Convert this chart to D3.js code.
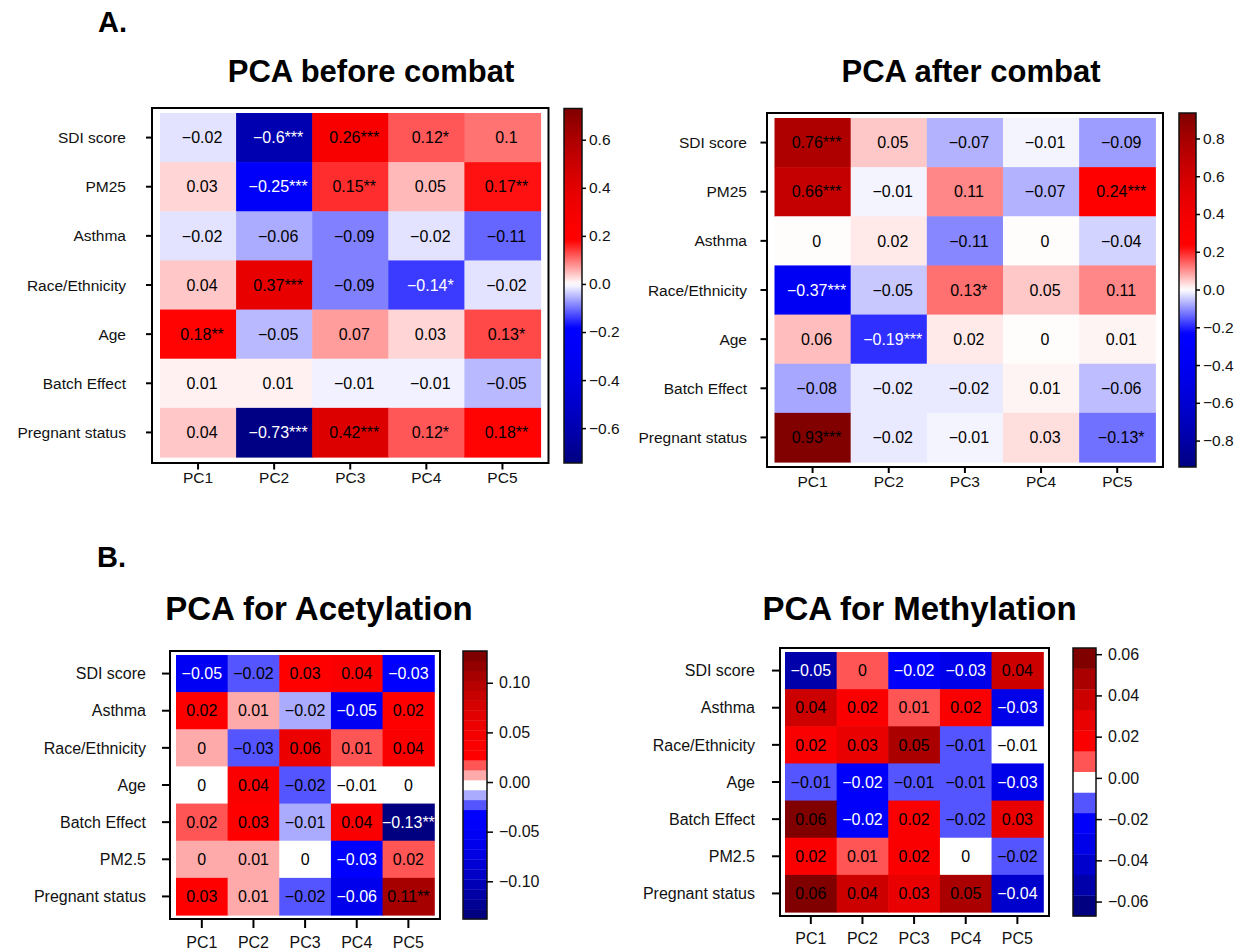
<!DOCTYPE html>
<html>
<head>
<meta charset="utf-8">
<script src="https://cdn.jsdelivr.net/npm/d3@7"></script>
<style>
  html, body { margin: 0; padding: 0; background: #ffffff; }
  svg { display: block; }
</style>
</head>
<body>
<svg id="fig" width="1246" height="951"></svg>
<script>
// ---------- data ----------
const pcs = ["PC1", "PC2", "PC3", "PC4", "PC5"];

const combatRows = ["SDI score", "PM25", "Asthma", "Race/Ethnicity", "Age", "Batch Effect", "Pregnant status"];

const beforeValues = [
  [-0.02, -0.60,  0.26,  0.12,  0.10],
  [ 0.03, -0.25,  0.15,  0.05,  0.17],
  [-0.02, -0.06, -0.09, -0.02, -0.11],
  [ 0.04,  0.37, -0.09, -0.14, -0.02],
  [ 0.18, -0.05,  0.07,  0.03,  0.13],
  [ 0.01,  0.01, -0.01, -0.01, -0.05],
  [ 0.04, -0.73,  0.42,  0.12,  0.18]
];
const beforeStars = [
  ["", "***", "***", "*", ""],
  ["", "***", "**", "", "**"],
  ["", "", "", "", ""],
  ["", "***", "", "*", ""],
  ["**", "", "", "", "*"],
  ["", "", "", "", ""],
  ["", "***", "***", "*", "**"]
];

const afterValues = [
  [ 0.76,  0.05, -0.07, -0.01, -0.09],
  [ 0.66, -0.01,  0.11, -0.07,  0.24],
  [ 0.003, 0.02, -0.11,  0.003, -0.04],
  [-0.37, -0.05,  0.13,  0.05,  0.11],
  [ 0.06, -0.19,  0.02,  0.003, 0.01],
  [-0.08, -0.02, -0.02,  0.01, -0.06],
  [ 0.93, -0.02, -0.01,  0.03, -0.13]
];
const afterStars = [
  ["***", "", "", "", ""],
  ["***", "", "", "", "***"],
  ["", "", "", "", ""],
  ["***", "", "*", "", ""],
  ["", "***", "", "", ""],
  ["", "", "", "", ""],
  ["***", "", "", "", "*"]
];

const markRows = ["SDI score", "Asthma", "Race/Ethnicity", "Age", "Batch Effect", "PM2.5", "Pregnant status"];

const acetValues = [
  [-0.05,  -0.02,   0.03,  0.04,  -0.03],
  [ 0.024,  0.01,  -0.016, -0.05,  0.024],
  [ 0.004, -0.026,  0.06,  0.013,  0.04],
  [ 0.0,    0.04,  -0.02,  -0.006, 0.0],
  [ 0.02,   0.03,  -0.01,  0.04,  -0.13],
  [ 0.004,  0.01,   0.0,  -0.03,   0.02],
  [ 0.03,   0.01,  -0.02, -0.06,   0.11]
];
const acetStars = [
  ["", "", "", "", ""],
  ["", "", "", "", ""],
  ["", "", "", "", ""],
  ["", "", "", "", ""],
  ["", "", "", "", "**"],
  ["", "", "", "", ""],
  ["", "", "", "", "**"]
];

const methValues = [
  [-0.05,  0.004, -0.02, -0.03,   0.04],
  [ 0.04,  0.02,   0.01,  0.02,  -0.03],
  [ 0.02,  0.03,   0.05, -0.01,  -0.006],
  [-0.01, -0.02,  -0.01, -0.01,  -0.03],
  [ 0.06, -0.02,   0.02, -0.016,  0.03],
  [ 0.02,  0.01,   0.02,  0.0,   -0.016],
  [ 0.06,  0.04,   0.03,  0.05,  -0.04]
];
const methStars = methValues.map(r => r.map(() => ""));

const beforeTicks = [0.6, 0.4, 0.2, 0.0, -0.2, -0.4, -0.6];
const afterTicks  = [0.8, 0.6, 0.4, 0.2, 0.0, -0.2, -0.4, -0.6, -0.8];
const acetTicks   = [0.10, 0.05, 0.00, -0.05, -0.10];
const methTicks   = [0.06, 0.04, 0.02, 0.00, -0.02, -0.04, -0.06];

// ---------- drawing ----------
const FONT = "'Liberation Sans', Arial, Helvetica, sans-serif";
const svg = d3.select("#fig");
svg.append("rect").attr("width", 1246).attr("height", 951).attr("fill", "#ffffff");

function minus(s) { return s.replace(/-/g, "\u2212"); }
function cellLabel(v) {
  const r = +v.toFixed(2);
  return minus(String(Object.is(r, -0) ? 0 : r));
}

// navy - blue - white - red - darkred, with a softened approach to the dark ends
function rampScale(loEnd, knee, hiEnd) {
  const N = 16, GAMMA = 1.6;
  const toNavy = d3.interpolateRgb("#0000ff", "#000080");
  const toDark = d3.interpolateRgb("#ff0000", "#800000");
  const dom = [], rng = [];
  for (let i = N; i >= 1; i--) {
    const s = i / N;
    dom.push(-knee + s * (loEnd + knee));
    rng.push(toNavy(Math.pow(s, GAMMA)));
  }
  dom.push(-knee, 0, knee);
  rng.push("#0000ff", "#ffffff", "#ff0000");
  for (let i = 1; i <= N; i++) {
    const s = i / N;
    dom.push(knee + s * (hiEnd - knee));
    rng.push(toDark(Math.pow(s, GAMMA)));
  }
  return d3.scaleLinear().domain(dom).range(rng).interpolate(d3.interpolateRgb).clamp(true);
}

function continuousScale(lo, hi, knee) {
  return rampScale(lo, knee, hi);
}

// stepped palette; one band per `step`, the white band holds zero
function bandedScale(lo, hi, step, knee) {
  const n = Math.round((hi - lo) / step);
  const z = Math.floor((0 - lo) / step);
  const kScale = rampScale(-z, knee, n - 1 - z);
  const bandOf = v => Math.max(0, Math.min(n - 1, Math.floor((v - lo) / step + 1e-9)));
  const f = v => kScale(bandOf(v) - z);
  f.bands = d3.range(n).map(i => ({ a: lo + i * step, b: lo + (i + 1) * step, color: kScale(i - z) }));
  return f;
}

function luminance(c) {
  const o = d3.rgb(c);
  return 0.299 * o.r + 0.587 * o.g + 0.114 * o.b;
}

function drawPanel(p) {
  const g = svg.append("g");
  const x = d3.scaleBand().domain(pcs).range([p.cx0, p.cx1]);
  const y = d3.scaleBand().domain(p.rows).range([p.cy0, p.cy1]);

  // title
  g.append("text")
    .attr("x", p.titleX).attr("y", p.titleY)
    .attr("text-anchor", "middle")
    .attr("font-family", FONT).attr("font-weight", "bold")
    .attr("font-size", p.titleSize).attr("fill", "#000")
    .text(p.title);

  // cells
  const cells = [];
  p.rows.forEach((r, i) => pcs.forEach((c, j) => cells.push({
    row: r, col: c, v: p.values[i][j], star: p.stars[i][j]
  })));

  g.selectAll("rect.cell").data(cells).join("rect")
    .attr("class", "cell")
    .attr("x", d => x(d.col)).attr("y", d => y(d.row))
    .attr("width", x.bandwidth() + 0.6).attr("height", y.bandwidth() + 0.6)
    .attr("fill", d => p.color(d.v));

  g.selectAll("text.val").data(cells).join("text")
    .attr("class", "val")
    .attr("x", d => x(d.col) + x.bandwidth() / 2 + p.textShift)
    .attr("y", d => y(d.row) + y.bandwidth() / 2)
    .attr("dy", "0.36em")
    .attr("text-anchor", "middle")
    .attr("font-family", FONT).attr("font-size", p.cellFont)
    .attr("fill", d => (d.v < 0 && luminance(p.color(d.v)) < 95) ? "#ffffff" : "#000000")
    .text(d => cellLabel(d.v) + d.star);

  // frame
  g.append("rect")
    .attr("x", p.fx0).attr("y", p.fy0)
    .attr("width", p.fx1 - p.fx0).attr("height", p.fy1 - p.fy0)
    .attr("fill", "none").attr("stroke", "#000").attr("stroke-width", 2);

  // y axis ticks and labels
  const ya = g.append("g");
  p.rows.forEach(r => {
    const cy = y(r) + y.bandwidth() / 2;
    ya.append("line").attr("x1", p.fx0 - p.tickLen).attr("x2", p.fx0)
      .attr("y1", cy).attr("y2", cy).attr("stroke", "#000").attr("stroke-width", 2);
    ya.append("text").attr("x", p.labelRight).attr("y", cy).attr("dy", "0.36em")
      .attr("text-anchor", "end").attr("font-family", FONT)
      .attr("font-size", p.axisFont).attr("fill", "#111").text(r);
  });

  // x axis ticks and labels
  pcs.forEach(c => {
    const cx = x(c) + x.bandwidth() / 2;
    g.append("line").attr("x1", cx).attr("x2", cx)
      .attr("y1", p.fy1).attr("y2", p.fy1 + p.xTickLen)
      .attr("stroke", "#000").attr("stroke-width", 2);
    g.append("text").attr("x", cx).attr("y", p.xLabelY)
      .attr("text-anchor", "middle").attr("font-family", FONT)
      .attr("font-size", p.axisFont).attr("fill", "#111").text(c);
  });

  // colour bar
  const cb = p.bar;
  const ys = d3.scaleLinear().domain([cb.lo, cb.hi]).range([cb.y1, cb.y0]);
  if (p.color.bands) {
    g.selectAll("rect.band").data(p.color.bands).join("rect")
      .attr("class", "band")
      .attr("x", cb.x0).attr("width", cb.x1 - cb.x0)
      .attr("y", d => ys(d.b)).attr("height", d => ys(d.a) - ys(d.b) + 0.3)
      .attr("fill", d => d.color);
  } else {
    const gid = "grad" + p.id;
    const grad = svg.append("defs").append("linearGradient").attr("id", gid)
      .attr("x1", 0).attr("x2", 0).attr("y1", 1).attr("y2", 0);
    d3.range(0, 1.0001, 1 / 100).forEach(t => {
      grad.append("stop").attr("offset", t)
        .attr("stop-color", p.color(cb.lo + t * (cb.hi - cb.lo)));
    });
    g.append("rect").attr("x", cb.x0).attr("y", cb.y0)
      .attr("width", cb.x1 - cb.x0).attr("height", cb.y1 - cb.y0)
      .attr("fill", `url(#${gid})`);
  }
  g.append("rect").attr("x", cb.x0).attr("y", cb.y0)
    .attr("width", cb.x1 - cb.x0).attr("height", cb.y1 - cb.y0)
    .attr("fill", "none").attr("stroke", "#111").attr("stroke-width", 1.5);

  const axis = d3.axisRight(ys).tickValues(cb.ticks)
    .tickFormat(d3.format(cb.fmt)).tickSize(cb.tickLen).tickPadding(cb.pad);
  const ag = g.append("g").attr("transform", `translate(${cb.x1},0)`).call(axis);
  ag.select(".domain").remove();
  ag.selectAll(".tick line").attr("stroke", "#000").attr("stroke-width", 1.5);
  ag.selectAll(".tick text").attr("font-family", FONT)
    .attr("font-size", cb.font).attr("fill", "#111");
}

// panel letters
svg.append("text").attr("x", 98).attr("y", 32).attr("font-family", FONT)
  .attr("font-weight", "bold").attr("font-size", 29).text("A.");
svg.append("text").attr("x", 97).attr("y", 567).attr("font-family", FONT)
  .attr("font-weight", "bold").attr("font-size", 29).text("B.");

drawPanel({
  id: "before", title: "PCA before combat", titleX: 371, titleY: 82, titleSize: 31,
  rows: combatRows, values: beforeValues, stars: beforeStars,
  color: continuousScale(-0.745, 0.73, 0.1825),
  cx0: 160, cx1: 540.5, cy0: 113, cy1: 457,
  fx0: 152, fx1: 548.5, fy0: 108, fy1: 463,
  tickLen: 6, xTickLen: 6.5, labelRight: 126, xLabelY: 482.5,
  axisFont: 15.5, cellFont: 16, textShift: 4,
  bar: { x0: 564, x1: 582, y0: 108.5, y1: 463, lo: -0.745, hi: 0.73,
         ticks: beforeTicks, fmt: ".1f", tickLen: 4, pad: 3, font: 15.5 }
});

drawPanel({
  id: "after", title: "PCA after combat", titleX: 971, titleY: 82, titleSize: 31,
  rows: combatRows, values: afterValues, stars: afterStars,
  color: continuousScale(-0.94, 0.935, 0.233),
  cx0: 774.5, cx1: 1155.3, cy0: 118, cy1: 462,
  fx0: 767, fx1: 1163, fy0: 113, fy1: 467,
  tickLen: 6.5, xTickLen: 6, labelRight: 747, xLabelY: 487,
  axisFont: 15.5, cellFont: 16, textShift: 4,
  bar: { x0: 1179, x1: 1196, y0: 113, y1: 467, lo: -0.94, hi: 0.935,
         ticks: afterTicks, fmt: ".1f", tickLen: 4, pad: 3, font: 15.5 }
});

drawPanel({
  id: "acet", title: "PCA for Acetylation", titleX: 319, titleY: 620, titleSize: 33,
  rows: markRows, values: acetValues, stars: acetStars,
  color: bandedScale(-0.138, 0.132, 0.01, 3),
  cx0: 176, cx1: 434.2, cy0: 655, cy1: 915,
  fx0: 170, fx1: 440, fy0: 651, fy1: 919,
  tickLen: 8, xTickLen: 9, labelRight: 146, xLabelY: 947.5,
  axisFont: 16, cellFont: 16, textShift: 0,
  bar: { x0: 463, x1: 487, y0: 651, y1: 919, lo: -0.138, hi: 0.132,
         ticks: acetTicks, fmt: ".2f", tickLen: 6, pad: 6, font: 16 }
});

drawPanel({
  id: "meth", title: "PCA for Methylation", titleX: 919.5, titleY: 620, titleSize: 33,
  rows: markRows, values: methValues, stars: methStars,
  color: bandedScale(-0.067, 0.063, 0.01, 1.5),
  cx0: 785, cx1: 1043.2, cy0: 652, cy1: 912,
  fx0: 780, fx1: 1049, fy0: 648, fy1: 916,
  tickLen: 8, xTickLen: 8, labelRight: 755, xLabelY: 943.5,
  axisFont: 16, cellFont: 16, textShift: 0,
  bar: { x0: 1073, x1: 1096, y0: 648, y1: 916, lo: -0.067, hi: 0.063,
         ticks: methTicks, fmt: ".2f", tickLen: 6, pad: 6, font: 16 }
});
</script>
</body>
</html>
